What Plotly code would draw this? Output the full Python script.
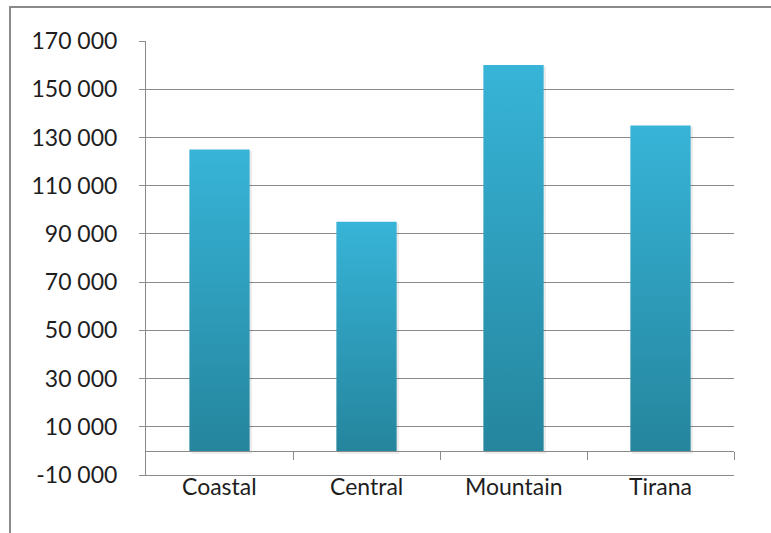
import plotly.graph_objects as go

categories = ["Coastal", "Central", "Mountain", "Tirana"]
values = [125000, 95000, 160000, 135000]
y_ticks = [-10000, 10000, 30000, 50000, 70000, 90000, 110000, 130000, 150000, 170000]
y_ticktext = [f"{v:,}".replace(",", " ") for v in y_ticks]

Y_MIN, Y_MAX = -10000, 170000
HALF = 0.205
TOP_COLOR = "#37B4D8"
BOTTOM_COLOR = "#25859D"
GRID = "#8a8a8a"
FONT = dict(family="Lato", size=23, color="#1e1e1e")

fig = go.Figure()

xs = list(range(len(categories)))
for i, v in zip(xs, values):
    # soft shadow
    fig.add_trace(go.Scatter(
        x=[i - HALF + 0.010, i + HALF + 0.016, i + HALF + 0.016, i - HALF + 0.010, i - HALF + 0.010],
        y=[0 - 1200, 0 - 1200, v - 600, v - 600, 0 - 1200],
        fill="toself", mode="none", fillcolor="rgba(0,0,0,0.08)",
        hoverinfo="skip", showlegend=False))
    fig.add_trace(go.Scatter(
        x=[i - HALF, i + HALF, i + HALF, i - HALF, i - HALF],
        y=[0, 0, v, v, 0],
        fill="toself", mode="none",
        fillgradient=dict(type="vertical", start=0, stop=v,
                          colorscale=[[0, BOTTOM_COLOR], [1, TOP_COLOR]]),
        name=categories[i], hoverinfo="x+y", showlegend=False))

# invisible trace for the zero-positioned category axis
fig.add_trace(go.Scatter(x=[-0.5, 3.5], y=[0, 0], xaxis="x2", mode="none",
                         hoverinfo="skip", showlegend=False))

annotations = [dict(x=i, y=0, xref="x", yref="paper", text=c, showarrow=False,
                    xanchor="center", yanchor="top", yshift=5, font=FONT)
               for i, c in zip(xs, categories)]

fig.update_layout(
    width=771, height=533,
    margin=dict(l=146, r=37, t=41, b=58),
    paper_bgcolor="white", plot_bgcolor="white",
    font=FONT,
    showlegend=False,
    annotations=annotations,
    xaxis=dict(range=[-0.5, 3.5], tickvals=xs, showticklabels=False,
               showgrid=False, zeroline=False, showline=True,
               linecolor=GRID, linewidth=1, ticks="", fixedrange=True),
    xaxis2=dict(range=[-0.5, 3.5], overlaying="x", anchor="free",
                position=(0 - Y_MIN) / (Y_MAX - Y_MIN),
                side="bottom", showline=True, linecolor=GRID, linewidth=1,
                tickvals=[x + 0.5 for x in xs], ticks="outside", ticklen=8,
                tickcolor=GRID, showticklabels=False, showgrid=False,
                zeroline=False),
    yaxis=dict(range=[Y_MIN, Y_MAX], tickvals=y_ticks, ticktext=y_ticktext,
               showgrid=True, gridcolor=GRID, gridwidth=1, zeroline=False,
               showline=True, linecolor=GRID, linewidth=1,
               ticks="outside", ticklen=6, tickcolor=GRID,
               ticklabelstandoff=17, tickfont=FONT),
    shapes=[dict(type="rect", xref="paper", yref="paper",
                 x0=(10 - 146) / 588, x1=(800 - 146) / 588,
                 y0=1 - (560 - 41) / 434, y1=1 + (41 - 7) / 434,
                 line=dict(color="#8a8a8a", width=2), fillcolor="rgba(0,0,0,0)",
                 layer="below")],
)

fig.write_html("out.html")
